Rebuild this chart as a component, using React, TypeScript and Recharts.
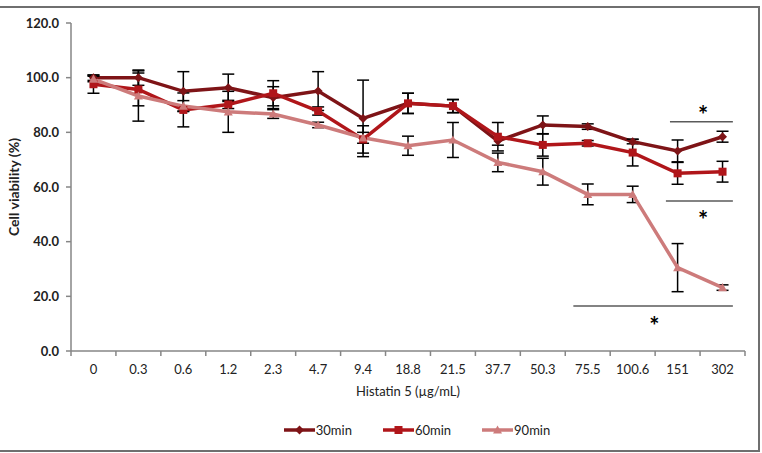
import React from 'react';
import { LineChart, Line, XAxis, YAxis, ErrorBar, Legend, Label, ReferenceLine, ReferenceDot } from 'recharts';

const CONC = ['0', '0.3', '0.6', '1.2', '2.3', '4.7', '9.4', '18.8', '21.5', '37.7', '50.3', '75.5', '100.6', '151', '302'];
const V30 = [100.0, 100.0, 95.0, 96.3, 92.7, 95.1, 85.1, 90.6, 89.6, 76.8, 82.7, 82.1, 76.6, 73.2, 78.4];
const E30 = [1.0, 2.8, 7.2, 5.0, 4.0, 7.1, 14.0, 3.7, 2.4, 1.5, 3.3, 1.0, 0.8, 4.0, 2.0];
const V60 = [97.6, 95.7, 88.2, 90.2, 94.3, 87.8, 77.4, 90.6, 89.6, 78.4, 75.4, 76.0, 72.6, 65.0, 65.6];
const E60 = [3.3, 6.0, 6.2, 1.5, 4.6, 1.5, 5.0, 3.7, 2.4, 5.2, 4.1, 1.0, 4.9, 4.0, 3.8];
const V90 = [99.5, 93.3, 89.6, 87.5, 86.7, 82.7, 78.0, 75.1, 77.2, 69.0, 65.6, 57.3, 57.3, 30.5, 23.2];
const E90 = [1.0, 9.2, 2.0, 7.5, 1.6, 1.0, 2.0, 3.5, 6.4, 3.4, 4.9, 3.8, 3.0, 8.8, 1.0];
const Y_TICKS = [0, 20, 40, 60, 80, 100, 120];
const X_TICKS = [-0.5, 0.5, 1.5, 2.5, 3.5, 4.5, 5.5, 6.5, 7.5, 8.5, 9.5, 10.5, 11.5, 12.5, 13.5, 14.5];
const SIG_LINES = [
  { x1: 12.83, x2: 14.23, y: 83.9 },
  { x1: 12.74, x2: 14.23, y: 54.9 },
  { x1: 10.68, x2: 14.23, y: 16.5 },
];
const SIG_STARS = [
  { x: 13.57, y: 88.2 },
  { x: 13.57, y: 50.1 },
  { x: 12.48, y: 11.3 },
];

const C30 = '#7E1417';
const C60 = '#B0161A';
const C90 = '#CD7B7B';
const FONT = 'Lato, "Open Sans", sans-serif';

const W = 762;
const H = 453;
const MARGIN = { top: 23, right: 17, bottom: 0, left: 0 };
const Y_W = 71;
const BAND = (W - MARGIN.left - MARGIN.right - Y_W) / CONC.length;

const data = CONC.map((c, i) => ({
  i,
  c,
  v30: V30[i],
  e30: E30[i],
  v60: V60[i],
  e60: E60[i],
  v90: V90[i],
  e90: E90[i],
}));

const Diamond = (props: any) => {
  const { cx, cy, fill, size = 4.5 } = props;
  if (cx == null || cy == null) return null;
  return <polygon points={`${cx},${cy - size} ${cx + size},${cy} ${cx},${cy + size} ${cx - size},${cy}`} fill={fill} />;
};
const Square = (props: any) => {
  const { cx, cy, fill, size = 4 } = props;
  if (cx == null || cy == null) return null;
  return <rect x={cx - size} y={cy - size} width={size * 2} height={size * 2} fill={fill} />;
};
const Triangle = (props: any) => {
  const { cx, cy, fill, size = 4.5 } = props;
  if (cx == null || cy == null) return null;
  return <polygon points={`${cx},${cy - size} ${cx + size},${cy + size * 0.8} ${cx - size},${cy + size * 0.8}`} fill={fill} />;
};

const XTick = (props: any) => {
  const { x, y, payload } = props;
  const idx = Math.round(payload.value + 0.5);
  if (idx < 0 || idx >= CONC.length) return null;
  return (
    <text x={x + BAND / 2} y={y} dy="0.71em" textAnchor="middle" fontFamily={FONT} fontSize={13} fill="#222">
      {CONC[idx]}
    </text>
  );
};

const LEGEND_ITEMS = [
  { name: '30min', color: C30, shape: 'diamond' },
  { name: '60min', color: C60, shape: 'square' },
  { name: '90min', color: C90, shape: 'triangle' },
];

const LegendContent = () => (
  <div style={{ height: 46, display: 'flex', justifyContent: 'center', alignItems: 'flex-start', paddingLeft: 89, boxSizing: 'border-box' }}>
    {LEGEND_ITEMS.map((it, k) => (
      <div key={it.name} style={{ display: 'flex', alignItems: 'center', marginTop: 16, marginLeft: k === 0 ? 0 : 31, height: 14 }}>
        <svg width={31} height={14}>
          <line x1={0} y1={7} x2={31} y2={7} stroke={it.color} strokeWidth={3.5} />
          {it.shape === 'diamond' && <Diamond cx={15.5} cy={7} fill={it.color} />}
          {it.shape === 'square' && <Square cx={15.5} cy={7} fill={it.color} />}
          {it.shape === 'triangle' && <Triangle cx={15.5} cy={7} fill={it.color} />}
        </svg>
        <span style={{ fontFamily: FONT, fontSize: 13, color: '#222', marginLeft: 1, lineHeight: '14px' }}>{it.name}</span>
      </div>
    ))}
  </div>
);

export default function App() {
  return (
    <div style={{ position: 'absolute', left: 0, top: 0, width: W, height: H, background: '#fff', overflow: 'hidden' }}>
      <div
        style={{
          position: 'absolute',
          left: -2,
          top: 6,
          width: 762,
          height: 446,
          border: '2px solid #6f6f6f',
          boxSizing: 'border-box',
        }}
      />
      <div style={{ position: 'absolute', left: 0, top: 0 }}>
        <LineChart width={W} height={H} data={data} margin={MARGIN}>
          <XAxis
            type="number"
            dataKey="i"
            domain={[-0.5, 14.5]}
            ticks={X_TICKS}
            interval={0}
            tick={<XTick />}
            tickSize={5}
            tickMargin={9}
            height={56}
            axisLine={{ stroke: '#868686', strokeWidth: 1.5 }}
            tickLine={{ stroke: '#868686', strokeWidth: 1.5 }}
            allowDataOverflow
          >
            <Label
              value="Histatin 5 (µg/mL)"
              position="insideBottom"
              offset={11}
              style={{ fontFamily: FONT, fontSize: 13, fill: '#222' }}
            />
          </XAxis>
          <YAxis
            domain={[0, 120]}
            ticks={Y_TICKS}
            width={Y_W}
            tickFormatter={(v: number) => v.toFixed(1)}
            tickSize={5}
            tickMargin={7}
            axisLine={{ stroke: '#868686', strokeWidth: 1.5 }}
            tickLine={{ stroke: '#868686', strokeWidth: 1.5 }}
            tick={{ fontFamily: FONT, fontSize: 13, fontWeight: 700, fill: '#222' }}
            allowDataOverflow
          >
            <Label
              value="Cell viability (%)"
              angle={-90}
              position="center"
              dx={-21}
              style={{ fontFamily: FONT, fontSize: 14, fontWeight: 700, fill: '#222' }}
            />
          </YAxis>
          <Legend verticalAlign="bottom" content={<LegendContent />} />
          {SIG_LINES.map((s, k) => (
            <ReferenceLine
              key={`sl${k}`}
              segment={[{ x: s.x1, y: s.y }, { x: s.x2, y: s.y }]}
              stroke="#5a5a5a"
              strokeWidth={1.5}
              ifOverflow="visible"
            />
          ))}
          {SIG_STARS.map((s, k) => (
            <ReferenceDot
              key={`ss${k}`}
              x={s.x}
              y={s.y}
              r={1}
              fill="none"
              stroke="none"
              ifOverflow="visible"
              label={{ value: '*', position: 'center', dy: 6, style: { fontFamily: FONT, fontSize: 24, fontWeight: 700, fill: '#000' } }}
            />
          ))}
          <Line
            dataKey="v30"
            stroke={C30}
            strokeWidth={3.5}
            dot={<Diamond fill={C30} />}
            activeDot={false}
            isAnimationActive={false}
          >
            <ErrorBar dataKey="e30" width={6} strokeWidth={1.5} stroke="#000" direction="y" />
          </Line>
          <Line
            dataKey="v60"
            stroke={C60}
            strokeWidth={3.5}
            dot={<Square fill={C60} />}
            activeDot={false}
            isAnimationActive={false}
          >
            <ErrorBar dataKey="e60" width={6} strokeWidth={1.5} stroke="#000" direction="y" />
          </Line>
          <Line
            dataKey="v90"
            stroke={C90}
            strokeWidth={3.5}
            dot={<Triangle fill={C90} />}
            activeDot={false}
            isAnimationActive={false}
          >
            <ErrorBar dataKey="e90" width={6} strokeWidth={1.5} stroke="#000" direction="y" />
          </Line>
        </LineChart>
      </div>
    </div>
  );
}
